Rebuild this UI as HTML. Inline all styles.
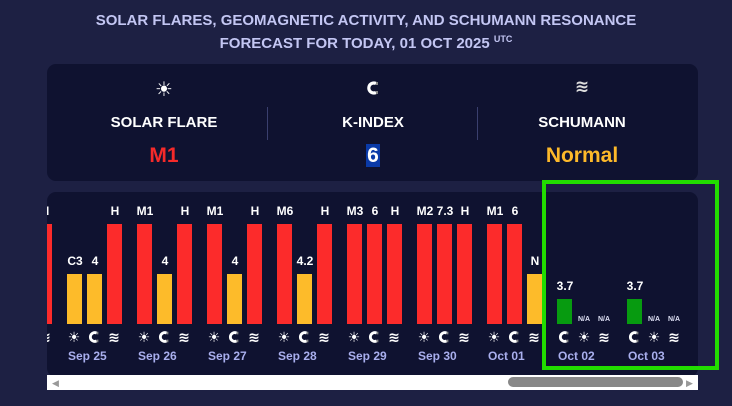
<!DOCTYPE html>
<html><head><meta charset="utf-8"><style>
*{margin:0;padding:0;box-sizing:border-box}
body{width:732px;height:406px;background:#1d2043;font-family:"Liberation Sans","DejaVu Sans",sans-serif;position:relative;overflow:hidden;font-weight:bold}
.a{position:absolute}
.t{color:#c3c6f3;font-size:15px;text-align:center;width:732px;left:0}
.panel{background:#0f1230;border-radius:9px}
.lab{color:#fff;font-size:15px;text-align:center;width:200px}
.val{font-size:21px;text-align:center;width:200px}
.bar{position:absolute;width:15px}
.r{background:#fc2b2b}.y{background:#fdbb2a}.g{background:#079b10}
.bl{position:absolute;color:#fff;font-size:12px;text-align:center;width:30px}
.ic{position:absolute;color:#fff;font-size:14px;text-align:center;width:20px;height:14px}
.dt{position:absolute;color:#a9afee;font-size:12px}
.na{position:absolute;color:#dfe1f5;font-size:7px;width:20px;text-align:center}
</style></head><body>
<div class="a t" style="top:12px">SOLAR FLARES, GEOMAGNETIC ACTIVITY, AND SCHUMANN RESONANCE</div>
<div class="a t" style="top:34px">FORECAST FOR TODAY, 01 OCT 2025 <sup style="font-size:9px">UTC</sup></div>
<div class="a panel" style="left:47px;top:64px;width:651px;height:117px"></div>
<div class="a" style="left:267px;top:107px;width:1px;height:33px;background:#3a3f6e"></div>
<div class="a" style="left:477px;top:107px;width:1px;height:33px;background:#3a3f6e"></div>
<div class="a" style="left:154px;top:77px;color:#fff;font-size:20px;width:20px;text-align:center">☀</div>
<svg class="a" style="left:365px;top:80px" width="16" height="16" viewBox="0 0 16 16"><path d="M11 3.5A5 5 0 1 0 11 12.5" fill="none" stroke="#fff" stroke-width="3.2"/><rect x="11" y="2" width="2" height="3" fill="#888"/><rect x="11" y="11" width="2" height="3" fill="#888"/></svg>
<div class="a" style="left:572px;top:77px;color:#ddd;font-size:17px;width:20px;text-align:center">≋</div>
<div class="a lab" style="left:64px;top:114px">SOLAR FLARE</div>
<div class="a lab" style="left:273px;top:114px">K-INDEX</div>
<div class="a lab" style="left:482px;top:114px">SCHUMANN</div>
<div class="a val" style="left:64px;top:144px;color:#f52a2a">M1</div>
<div class="a val" style="left:273px;top:144px;color:#fff"><span style="background:#0a3aa8;padding:0 1px">6</span></div>
<div class="a val" style="left:482px;top:144px;color:#fdb92a">Normal</div>
<div class="a panel" style="left:47px;top:192px;width:651px;height:185px;overflow:hidden" id="c"></div>
<div class="a" style="left:47px;top:375px;width:651px;height:15px;background:#fff"></div>
<div class="a" style="left:52px;top:378px;color:#999;font-size:9px">◀</div>
<div class="a" style="left:686px;top:378px;color:#999;font-size:9px">▶</div>
<div class="a" style="left:508px;top:377px;width:175px;height:10px;background:#888;border-radius:5px"></div>
<div class="a" style="left:542px;top:180px;width:177px;height:190px;border:4px solid #22dd00"></div>
<script>
var c=document.getElementById('c');var h='';
var MAG='<svg width="14" height="14" viewBox="0 0 16 16" style="margin-top:1px"><path d="M11 3.5A5 5 0 1 0 11 12.5" fill="none" stroke="#fff" stroke-width="3.2"/><rect x="11" y="2" width="2" height="3" fill="#888"/><rect x="11" y="11" width="2" height="3" fill="#888"/></svg>';
function bar(x,cls,top,l){h+='<div class="bar '+cls+'" style="left:'+(x-47)+'px;top:'+(top-192)+'px;height:'+(324-top)+'px"></div>';
h+='<div class="bl" style="left:'+(x-47-7)+'px;top:'+(top-192-20)+'px">'+l+'</div>';}
var T=224,S=274,IT=137;
var days=[
['Sep 25',[['y',S,'C3'],['y',S,'4'],['r',T,'H']]],
['Sep 26',[['r',T,'M1'],['y',S,'4'],['r',T,'H']]],
['Sep 27',[['r',T,'M1'],['y',S,'4'],['r',T,'H']]],
['Sep 28',[['r',T,'M6'],['y',S,'4.2'],['r',T,'H']]],
['Sep 29',[['r',T,'M3'],['r',T,'6'],['r',T,'H']]],
['Sep 30',[['r',T,'M2'],['r',T,'7.3'],['r',T,'H']]],
['Oct 01',[['r',T,'M1'],['r',T,'6'],['y',S,'N']]]];
bar(37,'r',T,'H');
h+='<div class="ic" style="left:-12px;top:'+IT+'px">≋</div>';
var icons=['☀',MAG,'≋'];
days.forEach(function(d,i){var x0=67+70*i;
d[1].forEach(function(b,j){bar(x0+20*j,b[0],b[1],b[2]);
h+='<div class="ic" style="left:'+(x0+20*j-47-3)+'px;top:'+IT+'px">'+icons[j]+'</div>';});
h+='<div class="dt" style="left:'+(x0-47+1)+'px;top:157px">'+d[0]+'</div>';});
[['Oct 02',557],['Oct 03',627]].forEach(function(d){var x0=d[1];
bar(x0,'g',299,'3.7');
h+='<div class="na" style="left:'+(x0+20-47-3)+'px;top:124px">N/A</div><div class="na" style="left:'+(x0+40-47-3)+'px;top:124px">N/A</div>';
[MAG,'☀','≋'].forEach(function(ic,j){h+='<div class="ic" style="left:'+(x0+20*j-47-3)+'px;top:'+IT+'px">'+ic+'</div>';});
h+='<div class="dt" style="left:'+(x0-47+1)+'px;top:157px">'+d[0]+'</div>';});
c.innerHTML=h;
</script>
</body></html>
